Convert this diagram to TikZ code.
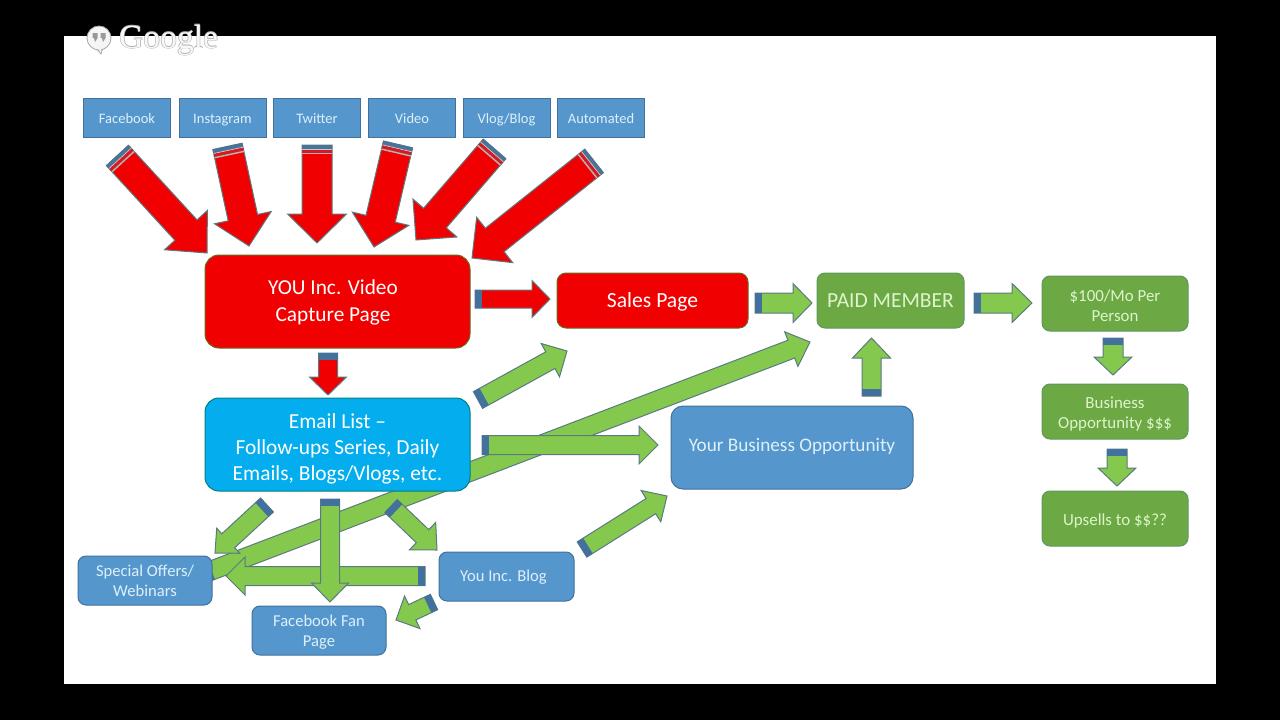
\documentclass[tikz,border=0pt]{standalone}
\usepackage{fontspec}
\setmainfont{Carlito}
\newfontfamily\logofont{Liberation Serif}
\definecolor{steel}{HTML}{41719C}
\definecolor{outl}{HTML}{5A7A80}
\definecolor{boxblue}{HTML}{5597CD}
\definecolor{boxgreen}{HTML}{6CA843}
\definecolor{arrowgreen}{HTML}{85C84E}
\definecolor{cyanbox}{HTML}{04ADEE}
\definecolor{redbox}{HTML}{F00000}
\definecolor{txt}{HTML}{DDF0FA}
\definecolor{gtxt}{HTML}{DDF5CC}
\newcommand{\up}[1]{\rule{0pt}{#1pt}}
\tikzset{
  boxbase/.style={draw=steel,line width=1pt,text=txt,align=center,inner sep=0pt,fill=boxblue},
  sqbox/.style={boxbase,minimum width=87pt,minimum height=39pt,text height=14pt,text depth=3pt,font=\fontsize{14.5}{16}\selectfont},
  rbox/.style={boxbase,rounded corners=8pt,font=\fontsize{16.6}{20}\selectfont},
  bluebig/.style={rbox,rounded corners=12pt,font=\fontsize{19.2}{24}\selectfont},
  greenbox/.style={rbox,fill=boxgreen,draw=boxgreen!70!steel,text=gtxt,font=\fontsize{16.9}{20}\selectfont},
  redrbox/.style={rbox,text=white,fill=redbox,draw=olive!70!black,rounded corners=14pt,font=\fontsize{21.3}{26.5}\selectfont},
  cyanrbox/.style={redrbox,fill=cyanbox,draw=teal,font=\fontsize{21.4}{26}\selectfont},
  arrowline/.style={draw=outl,line width=1pt,line join=miter},
}
% #1 tail coordinate, #2 tip coordinate, #3 fill, #4 shaft width, #5 head width, #6 head length, #7 stripes
\newcommand{\barrow}[7]{%
  \pgfpointanchor{#1}{center}\pgfgetlastxy{\xa}{\ya}%
  \pgfpointanchor{#2}{center}\pgfgetlastxy{\xb}{\yb}%
  \pgfmathsetmacro\blen{veclen(\xb-\xa,\yb-\ya)}%
  \pgfmathsetmacro\ux{(\xb-\xa)/\blen}%
  \pgfmathsetmacro\uy{(\yb-\ya)/\blen}%
  \begin{scope}[shift={(#1)},x={(\ux pt,\uy pt)},y={(-\uy pt,\ux pt)}]
    \pgfmathsetmacro\sw{#4/2}\pgfmathsetmacro\hw{#5/2}\pgfmathsetmacro\bs{\blen-#6}%
    \draw[arrowline,fill=#3] (0,-\sw) -- (\bs,-\sw) -- (\bs,-\hw) -- (\blen,0) -- (\bs,\hw) -- (\bs,\sw) -- (0,\sw) -- cycle;
    \ifnum#7=1
      \fill[steel] (0,-\sw) -- (7,-\sw) -- (7,\sw) -- (0,\sw) -- cycle;
    \else
      \fill[steel!85!gray] (-.5,-\sw) -- (3.5,-\sw) -- (3.5,\sw) -- (-.5,\sw) -- cycle;
      \fill[gray!45] (3.5,-\sw) -- (4.5,-\sw) -- (4.5,\sw) -- (3.5,\sw) -- cycle;
      \fill[red!75!steel] (4.5,-\sw) -- (7.5,-\sw) -- (7.5,\sw) -- (4.5,\sw) -- cycle;
      \fill[gray!60] (7.5,-\sw) -- (9,-\sw) -- (9,\sw) -- (7.5,\sw) -- cycle;
    \fi
  \end{scope}}
\begin{document}
\begin{tikzpicture}[x=1pt,y=-1pt]
\useasboundingbox (0,0) rectangle (1280,720);
\fill[black] (0,0) rectangle (1280,720);
\fill[white] (64,36) rectangle (1216,684);

% tails and tips
\coordinate (longS) at (205,573);  \coordinate (longT) at (810,342);
\coordinate (a1s) at (117.5,155.5);  \coordinate (a1t) at (207,253);
\coordinate (a2s) at (227.5,146.5);  \coordinate (a2t) at (249,246);
\coordinate (a3s) at (317,145);  \coordinate (a3t) at (317,243);
\coordinate (a4s) at (398,144.5);  \coordinate (a4t) at (374,247);
\coordinate (a5s) at (494.5,149);  \coordinate (a5t) at (416,240);
\coordinate (a6s) at (594,161);  \coordinate (a6t) at (472,258);
\coordinate (r1s) at (475,299);  \coordinate (r1t) at (550,299);
\coordinate (r2s) at (328,353);  \coordinate (r2t) at (328,395);
\coordinate (g1s) at (755,303);  \coordinate (g1t) at (812,303);
\coordinate (g2s) at (974,303);  \coordinate (g2t) at (1032,303);
\coordinate (g3s) at (478,400);  \coordinate (g3t) at (567,351);
\coordinate (g4s) at (482,445);  \coordinate (g4t) at (658,445);
\coordinate (g5s) at (871.5,396);  \coordinate (g5t) at (871.5,338);
\coordinate (g6s) at (582,549.5);  \coordinate (g6t) at (667,496);
\coordinate (g7s) at (1113,338); \coordinate (g7t) at (1113,375);
\coordinate (g8s) at (1117,449); \coordinate (g8t) at (1117,486);
\coordinate (g9s) at (267,505);  \coordinate (g9t) at (215,553);
\coordinate (g10s) at (391,506); \coordinate (g10t) at (437,550);
\coordinate (g11s) at (425,576); \coordinate (g11t) at (226,576);
\coordinate (g12s) at (330,499); \coordinate (g12t) at (330,602);
\coordinate (g13s) at (434,602); \coordinate (g13t) at (396,620);

% long arrow behind the boxes
\barrow{longS}{longT}{arrowgreen}{19}{37}{20}{1}

% top row
\node[sqbox] (fb) at (127,118) {Facebook};
\node[sqbox] (ig) at (222.5,118) {Instagram};
\node[sqbox] (tw) at (317,118) {Twitter};
\node[sqbox] (vd) at (412,118) {Video};
\node[sqbox] (vl) at (506.5,118) {Vlog/Blog};
\node[sqbox] (au) at (601,118) {Automated};

% red arrows
\barrow{a1s}{a1t}{redbox}{30}{58}{31}{2}
\barrow{a2s}{a2t}{redbox}{30}{58}{29}{2}
\barrow{a3s}{a3t}{redbox}{30}{59}{29}{2}
\barrow{a4s}{a4t}{redbox}{30}{58}{29}{2}
\barrow{a5s}{a5t}{redbox}{30}{58}{29}{2}
\barrow{a6s}{a6t}{redbox}{30}{58}{29}{2}

% main boxes
\node[redrbox,minimum width=265pt,minimum height=93pt] (you) at (337.5,301.5) {\up{17}\makebox[257pt]{\hspace{-9pt}YOU Inc. Video}\\\makebox[257pt]{\hspace{-9pt}Capture Page}};
\node[redrbox,rounded corners=9pt,minimum width=191pt,minimum height=55pt,font=\fontsize{21.6}{24}\selectfont] (sales) at (652.5,300.5) {\up{17}Sales Page};
\node[greenbox,minimum width=147pt,minimum height=55pt,font=\fontsize{21.5}{24}\selectfont] (paid) at (890.5,300.5) {PAID MEMBER};
\node[greenbox,minimum width=146pt,minimum height=55pt] (hund) at (1115,303.5) {\up{17}\$100/Mo Per\\Person};
\node[greenbox,minimum width=146pt,minimum height=55pt] (opp) at (1115,411.5) {\up{16}Business\\Opportunity \$\$\$};
\node[greenbox,minimum width=146pt,minimum height=55pt] (ups) at (1115,518.5) {\up{16}Upsells to \$\$??};
\node[cyanrbox,minimum width=265pt,minimum height=93pt] (email) at (337.5,444.5) {\up{24}Email List --\\Follow-ups Series, Daily\\Emails, Blogs/Vlogs, etc.};
\node[bluebig,minimum width=242pt,minimum height=83pt,text depth=6pt] (biz) at (792,447.5) {Your Business Opportunity};
\node[rbox,minimum width=134pt,minimum height=49pt] (spec) at (145,580.5) {Special Offers/\\Webinars};
\node[rbox,minimum width=134pt,minimum height=49pt] (fan) at (319,630.5) {\up{15}Facebook Fan\\Page};
\node[rbox,minimum width=135pt,minimum height=49pt] (blog) at (506.5,576.5) {\up{13}\makebox[125pt]{\hspace{-6pt}You Inc. Blog}};

% other arrows
\barrow{r1s}{r1t}{redbox}{18}{37}{18}{1}
\barrow{r2s}{r2t}{redbox}{19}{37}{18}{1}
\barrow{g1s}{g1t}{arrowgreen}{20}{39}{19}{1}
\barrow{g2s}{g2t}{arrowgreen}{20}{39}{20}{1}
\barrow{g3s}{g3t}{arrowgreen}{19}{38}{19}{1}
\barrow{g4s}{g4t}{arrowgreen}{19}{38}{19}{1}
\barrow{g5s}{g5t}{arrowgreen}{19}{38}{20}{1}
\barrow{g6s}{g6t}{arrowgreen}{18}{37}{19}{1}
\barrow{g7s}{g7t}{arrowgreen}{20}{38}{18}{1}
\barrow{g8s}{g8t}{arrowgreen}{20}{38}{18}{1}
\barrow{g9s}{g9t}{arrowgreen}{19}{34}{18}{1}
\barrow{g10s}{g10t}{arrowgreen}{18}{38}{20}{1}
\barrow{g11s}{g11t}{arrowgreen}{19}{38}{19}{1}
\barrow{g12s}{g12t}{arrowgreen}{19}{37}{19}{1}
\barrow{g13s}{g13t}{arrowgreen}{17}{36}{18}{1}

% logo
\draw[gray!70,fill=white!92!gray,line width=.8pt] (95,47) -- (101,54) -- (103,47);
\draw[gray!70,fill=white!92!gray,line width=.8pt] (99,38) circle[radius=12];
\fill[white!92!gray] (96,45) -- (102,45) -- (101,50) -- (97,49) -- cycle;
\fill[gray!80] (92.5,33) rectangle (97.5,38) (100.5,33) rectangle (105.5,38);
\fill[gray!80] (94,38) -- (97.5,38) -- (95,42) -- cycle (102,38) -- (105.5,38) -- (103,42) -- cycle;
\foreach \dx/\dy [count=\i] in {-.6/0,.6/0,0/-.6,0/.6}
  \node[anchor=base west,inner sep=0pt,text=gray!60,font=\logofont\fontsize{33.6}{35}\selectfont] (logo\i) at (119+\dx,48+\dy) {Google};
\node[anchor=base west,inner sep=0pt,text=white!94!gray,font=\logofont\fontsize{33.6}{35}\selectfont] (logo) at (119,48) {Google};
\end{tikzpicture}
\end{document}
